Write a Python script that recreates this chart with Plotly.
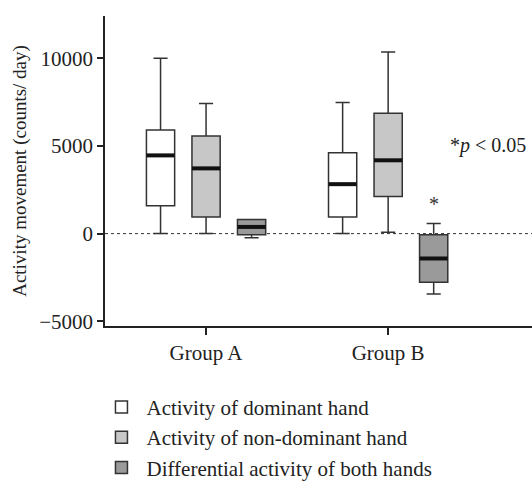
import plotly.graph_objects as go

groups = ["Group A", "Group B"]
series = ["Activity of dominant hand", "Activity of non-dominant hand", "Differential activity of both hands"]
fills = ["#ffffff", "#c6c7c6", "#9a9a9a"]

# per series: values for [Group A, Group B]
lower = [[0, 0], [0, 80], [-240, -3440]]
q1 = [[1590, 950], [950, 2110], [-60, -2780]]
median = [[4460, 2820], [3720, 4180], [380, -1420]]
q3 = [[5910, 4610], [5570, 6870], [810, -60]]
upper = [[10000, 7480], [7420, 10350], [810, 570]]

group_pos = [1, 2]
offsets = [-0.25, 0.0, 0.25]
box_w = 0.155

FONT = "Liberation Serif"
LINE = "#333333"

fig = go.Figure()
for s in range(3):
    xs = [g + offsets[s] for g in group_pos]
    fig.add_trace(go.Box(
        name=series[s], x=xs,
        q1=q1[s], median=median[s], q3=q3[s],
        lowerfence=lower[s], upperfence=upper[s],
        width=box_w, whiskerwidth=0.5,
        fillcolor=fills[s], line=dict(color=LINE, width=1.5),
        boxpoints=False, hoverinfo="skip",
        legendgroup=series[s],
    ))

# thick median bars
mx, my = [], []
for s in range(3):
    for gi, g in enumerate(group_pos):
        c = g + offsets[s]
        mx += [c - box_w / 2, c + box_w / 2, None]
        my += [median[s][gi], median[s][gi], None]
fig.add_trace(go.Scatter(x=mx, y=my, mode="lines", line=dict(color="#111111", width=4),
                         showlegend=False, hoverinfo="skip"))

# zero reference line
fig.add_shape(type="line", xref="paper", x0=0, x1=1, yref="y", y0=0, y1=0,
              line=dict(color="#333333", width=1, dash="dot"), layer="below")

# significance marker
fig.add_annotation(x=group_pos[1] + offsets[2], y=upper[2][1], yshift=20, text="*",
                   showarrow=False, font=dict(family=FONT, size=20, color="#333"))
fig.add_annotation(x=1.0, xref="paper", xanchor="right", xshift=-4, y=5000, yref="y",
                   text="*<i>p</i> < 0.05", showarrow=False,
                   font=dict(family=FONT, size=20, color="#222"))

fig.update_layout(
    width=532, height=488,
    margin=dict(l=105, r=0, t=16, b=160),
    paper_bgcolor="white", plot_bgcolor="white",
    font=dict(family=FONT, size=20, color="#222"),
    showlegend=True,
    legend=dict(x=-0.02, y=-0.196, xanchor="left", yanchor="top",
                font=dict(family=FONT, size=21), tracegroupgap=0,
                itemwidth=40, bgcolor="rgba(0,0,0,0)"),
    xaxis=dict(range=[0.445, 2.79], tickvals=group_pos, ticktext=groups,
               tickfont=dict(size=21),
               showline=True, linecolor="#222", linewidth=1.5,
               ticks="outside", ticklen=7, tickwidth=1.5, tickcolor="#222",
               showgrid=False, zeroline=False),
    yaxis=dict(range=[-5270, 12410], tickvals=[-5000, 0, 5000, 10000],
               ticktext=["\u22125000", "0", "5000", "10000"],
               tickfont=dict(size=21),
               showline=True, linecolor="#222", linewidth=1.5,
               ticks="outside", ticklen=6, tickwidth=1.5, tickcolor="#222",
               showgrid=False, zeroline=False,
               title=dict(text="Activity movement (counts/ day)", standoff=8,
                          font=dict(size=19))),
)

fig.write_html("out.html", config={"displayModeBar": False},
               post_script="document.body.style.margin='0px';")
